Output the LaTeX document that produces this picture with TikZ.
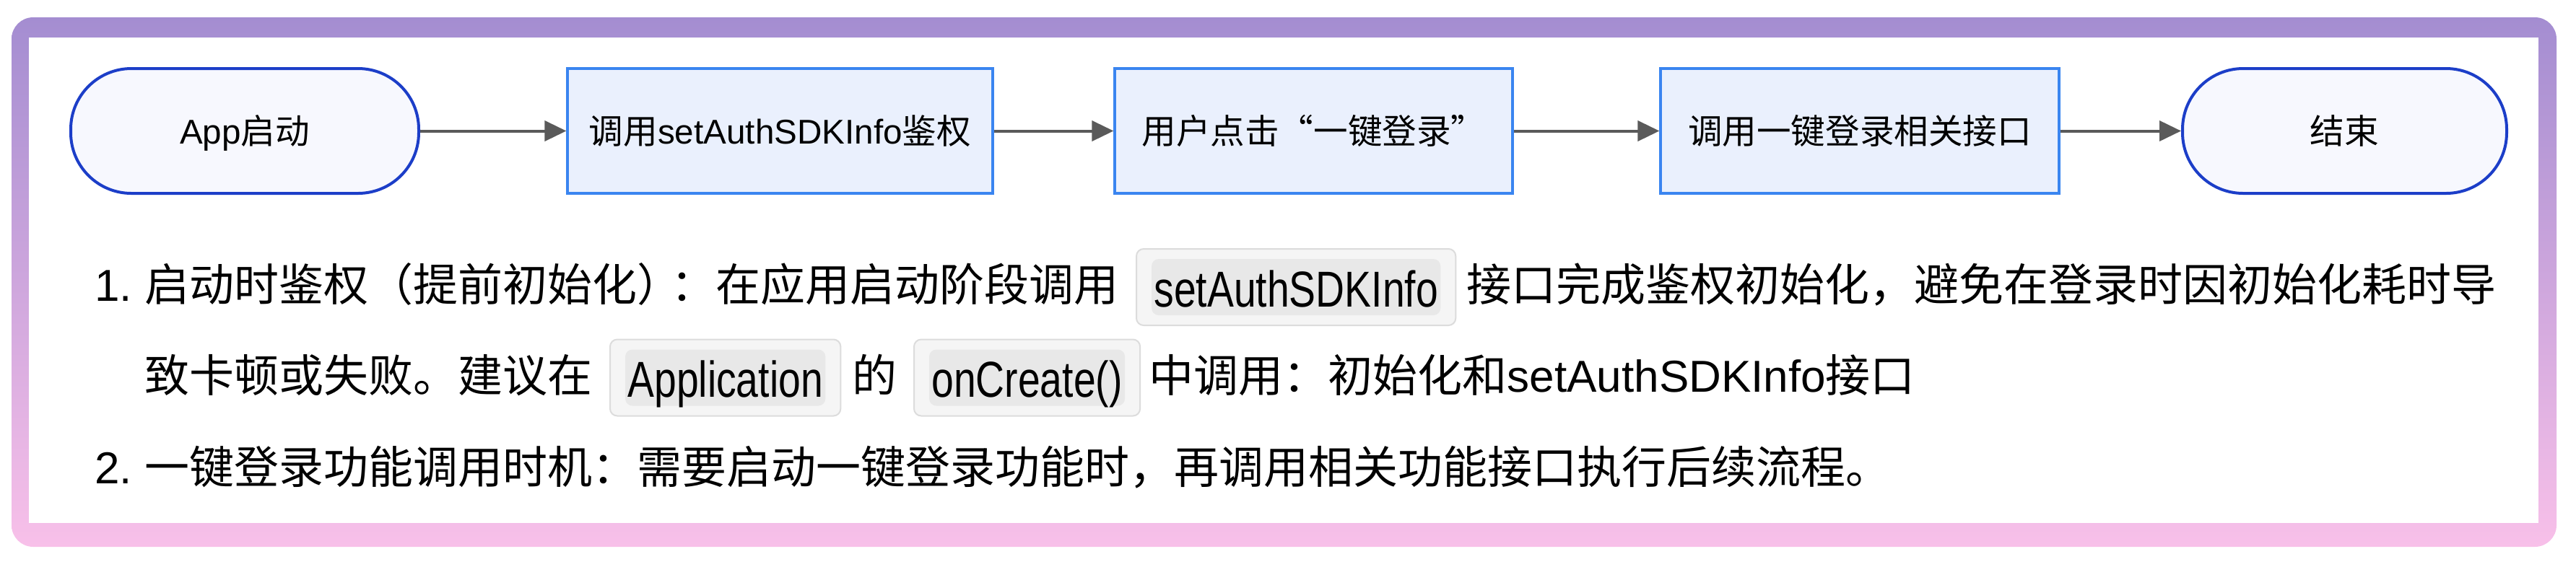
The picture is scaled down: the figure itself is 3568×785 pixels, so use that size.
\documentclass[tikz,border=0pt]{standalone}
\usepackage{fontspec}
\setmainfont{Noto Sans CJK SC}
\newfontfamily\lat{Liberation Sans}
\newfontfamily\codefont[FakeStretch=0.79]{Liberation Sans}
\usetikzlibrary{arrows.meta}

\definecolor{framePurple}{HTML}{A48DD1}
\definecolor{framePink}{HTML}{F8C0E9}
\definecolor{termFill}{HTML}{F7F8FE}
\definecolor{termLine}{HTML}{1C3EC8}
\definecolor{procFill}{HTML}{EAF0FD}
\definecolor{procLine}{HTML}{3A85F0}
\definecolor{arrowGray}{HTML}{5A5A5A}
\definecolor{codeBack}{HTML}{F5F5F5}
\definecolor{codeEdge}{HTML}{DCDCDC}
\definecolor{codeInner}{HTML}{E8E8E8}

\begin{document}
\begin{tikzpicture}[x=0.25pt,y=-0.25pt,
    terminal/.style={draw=termLine,fill=termFill,line width=1pt,rounded corners=21pt,
        minimum height=43.25pt,inner sep=0pt,font=\fontsize{11.9pt}{14pt}\selectfont,
        text height=10.5pt,text depth=1.4pt},
    process/.style={draw=procLine,fill=procFill,line width=0.8pt,
        minimum height=43.25pt,inner sep=0pt,font=\fontsize{11.9pt}{14pt}\selectfont,
        text height=10.5pt,text depth=1.4pt},
    flow/.style={draw=arrowGray,line width=1pt,-{Triangle[length=7.5pt,width=7pt]}},
    body/.style={anchor=base west,inner sep=0pt,font=\fontsize{15.5pt}{18pt}\selectfont},
    num/.style={anchor=base east,inner sep=0pt,font=\fontsize{15.5pt}{18pt}\lat},
    code/.style={anchor=west,fill=codeBack,draw=codeEdge,line width=0.5pt,rounded corners=2.5pt,
        inner xsep=6.1pt,inner ysep=0pt,minimum height=26.5pt,text height=14.5pt,text depth=1pt,
        font=\fontsize{17.5pt}{20pt}\codefont,
        path picture={\fill[codeInner]
            ([xshift=5.25pt,yshift=-3.5pt]path picture bounding box.north west) rectangle
            ([xshift=-5.25pt,yshift=3.5pt]path picture bounding box.south east);}}]

\useasboundingbox (0,0) rectangle (3568,785);

% Frame
\shade[top color=framePurple,bottom color=framePink,rounded corners=7.5pt]
    (16,24) rectangle (3541,758);
\fill[white] (40,52) rectangle (3516,725);

% Flow
\node[terminal,minimum width=120.5pt] (start) at (339,181.5) {{\lat App}启动};
\node[process,minimum width=147.25pt] (auth) at (1080.5,181.5) {调用{\lat setAuthSDKInfo}鉴权};
\node[process,minimum width=137.75pt] (click) at (1819.5,181.5) {用户点击“一键登录”};
\node[process,minimum width=138pt] (call) at (2576,181.5) {调用一键登录相关接口};
\node[terminal,minimum width=112.25pt] (finish) at (3247.5,181.5) {结束};

\draw[flow] (start) -- (auth);
\draw[flow] (auth) -- (click);
\draw[flow] (click) -- (call);
\draw[flow] (call) -- (finish);

% Notes, line 1
\node[num] (n1) at (184,417) {1.};
\node[body] (t1a) at (200,417) {启动时鉴权（提前初始化）\kern-0.25em：在应用启动阶段调用};
\node[code] (c1) at (1573,398) {setAuthSDKInfo};
\node[body] (t1b) at (2031,417) {接口完成鉴权初始化，避免在登录时因初始化耗时导};

% Notes, line 2
\node[body] (t2a) at (200,543) {致卡顿或失败。建议在};
\node[code] (c2) at (844,523.5) {Application};
\node[body] (t2b) at (1180,543) {的};
\node[code] (c3) at (1265,523.5) {onCreate()};
\node[body] (t2c) at (1591,543) {中调用：初始化和{\lat setAuthSDKInfo}接口};

% Notes, line 3
\node[num] (n2) at (184,670) {2.};
\node[body] (t3) at (200,670) {一键登录功能调用时机：需要启动一键登录功能时，再调用相关功能接口执行后续流程。};

\end{tikzpicture}
\end{document}
